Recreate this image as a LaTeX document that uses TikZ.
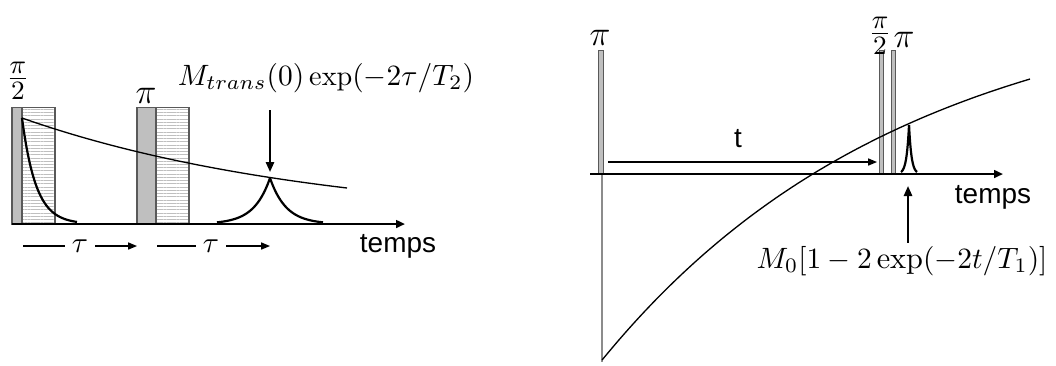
\documentclass[tikz,border=0pt]{standalone}
\usepackage{fontspec}
\newfontfamily\arialfont{Liberation Sans}
\usetikzlibrary{arrows.meta,patterns.meta}

\begin{document}
\begin{tikzpicture}[x=0.34pt, y=-0.34pt,
    axis/.style={-{Triangle[length=3pt,width=2.6pt]}, line width=0.7pt},
    arr/.style={-{Triangle[length=3.4pt,width=2.8pt]}, line width=0.7pt},
    tarr/.style={-{Triangle[length=3pt,width=2.4pt]}, line width=0.4pt},
    pulse/.style={draw=black!65, fill=black!25, line width=0.35pt},
    hatch/.style={draw=black!65, line width=0.35pt,
        pattern={Lines[angle=0,distance=1.1pt,line width=0.3pt]}, pattern color=black!25},
    sig/.style={line width=0.75pt},
    env/.style={line width=0.45pt},
    lbl/.style={font=\arialfont\fontsize{9.5}{11}\selectfont, inner sep=1pt},
    mlbl/.style={font=\fontsize{10.3}{12}\selectfont, inner sep=1pt},
    flbl/.style={font=\fontsize{12.5}{15}\selectfont, inner sep=1pt},
]
\useasboundingbox (0,0) rectangle (1056,365);

% Spin echo (left)
\draw[pulse] (12,107) rectangle (22,224);
\draw[hatch] (22,107) rectangle (55,224);
\draw[pulse] (137,107) rectangle (156,224);
\draw[hatch] (156,107) rectangle (189,224);

\draw[env] plot[domain=22:347, samples=60] (\x,{224-106*exp(-(\x-22)/301)});
\draw[sig] plot[domain=22:77, samples=50] (\x,{224-106*exp(-(\x-22)/14)});
\draw[sig] plot[domain=217:270, samples=40] (\x,{224-46*exp(-(270-\x)/16)});
\draw[sig] plot[domain=270:323, samples=40] (\x,{224-46*exp(-(\x-270)/16)});

\coordinate (axLs) at (12,224);
\coordinate (axLe) at (405,224);
\draw[axis] (axLs) -- (axLe);

\node[flbl] (pihalfL) at (18,81) {$\frac{\pi}{2}$};
\node[flbl] (piL) at (146,96) {$\pi$};
\node[mlbl, font=\fontsize{9.6}{11}\selectfont] (transL) at (326,78) {$M_{trans}(0)\exp(-2\tau/T_2)$};
\node[lbl] (tempsL) at (398,246) {temps};

\coordinate (echoLtail) at (270,110);
\coordinate (echoLtip) at (270,172);
\draw[arr] (echoLtail) -- (echoLtip);

\node[mlbl, inner sep=2.2pt] (tauA) at (80,246) {$\tau$};
\node[mlbl, inner sep=2.2pt] (tauB) at (211,246) {$\tau$};
\coordinate (tauAs) at (23,246);
\coordinate (tauAe) at (137,246);
\coordinate (tauBs) at (157,246);
\coordinate (tauBe) at (270,246);
\draw[line width=0.4pt] (tauAs) -- (tauA);
\draw[tarr] (tauA) -- (tauAe);
\draw[line width=0.4pt] (tauBs) -- (tauB);
\draw[tarr] (tauB) -- (tauBe);

% Inversion recovery (right)
\draw[black!45, line width=0.4pt] (602,113) -- (602,362);
\draw[pulse] (598,50) rectangle (603,174);
\draw[pulse] (879,50) rectangle (883,174);
\draw[pulse] (891,50) rectangle (895,174);

\draw[env] plot[domain=602:1030, samples=80] (\x,{174-186*(1-2*exp(-(\x-602)/304))});
\draw[sig] plot[domain=901:909, samples=30] (\x,{174-49*exp(-(909-\x)/2.5)});
\draw[sig] plot[domain=909:917, samples=30] (\x,{174-49*exp(-(\x-909)/2.5)});

\coordinate (axRs) at (590,174);
\coordinate (axRe) at (1003,174);
\draw[axis] (axRs) -- (axRe);

\coordinate (tRs) at (608,162);
\coordinate (tRe) at (877,162);
\draw[tarr] (tRs) -- (tRe);

\node[flbl] (piR) at (600,38) {$\pi$};
\node[flbl] (pihalfR) at (880,36) {$\frac{\pi}{2}$};
\node[flbl] (piR2) at (904,40) {$\pi$};
\node[lbl] (tR) at (738,139) {t};
\node[lbl] (tempsR) at (993,197) {temps};
\node[mlbl] (relaxR) at (902,261) {$M_0[1-2\exp(-2t/T_1)]$};

\coordinate (echoRtip) at (908,186);
\draw[arr] (relaxR.north -| echoRtip) -- (echoRtip);
\end{tikzpicture}
\end{document}
